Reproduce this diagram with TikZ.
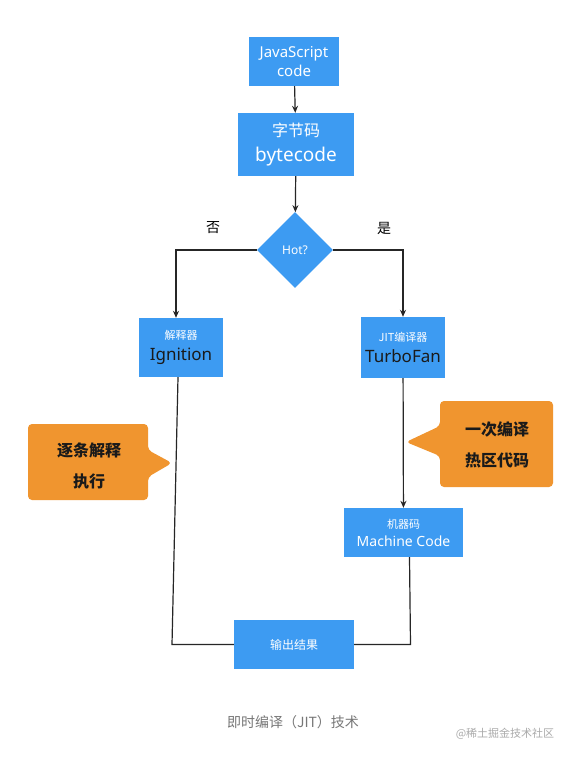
\documentclass[tikz,border=0pt]{standalone}
\usepackage{fontspec}
\setmainfont{Noto Sans CJK SC}
\newfontfamily\lat{Noto Sans}
\usetikzlibrary{shapes.geometric,arrows.meta,calc}
\definecolor{boxblue}{HTML}{3D9BF2}
\definecolor{callorange}{HTML}{F0952F}
\definecolor{captiongray}{HTML}{777777}
\definecolor{markgray}{HTML}{AAAAAA}
\definecolor{darktext}{HTML}{1A1A1A}
\tikzset{
  bluebox/.style={fill=boxblue,draw=none,inner sep=0pt,align=center,text=white},
  conn/.style={draw=black!85,line width=1.2pt},
  arr/.style={conn,-{Stealth[length=7pt,width=6pt]}},
  callout/.style={fill=callorange,draw=none,rounded corners=4pt},
  calltext/.style={align=center,font=\fontsize{16}{31}\selectfont\bfseries,text=darktext},
}
\begin{document}
\begin{tikzpicture}[x=1pt,y=-1pt]
\useasboundingbox (0,0) rectangle (578,758);
\fill[white] (0,0) rectangle (578,758);
% boxes
\node[bluebox,minimum width=90pt,minimum height=49pt,font=\lat\fontsize{15}{19}\selectfont\bfseries] (js) at (294,61.5) {JavaScript\\code};
\node[bluebox,minimum width=116pt,minimum height=63pt] (bc) at (296,144.5) {{\fontsize{16}{18}\selectfont 字节码}\\[9pt]{\lat\fontsize{19}{20}\selectfont bytecode}};
\node[diamond,fill=boxblue,draw=none,minimum width=76pt,minimum height=76pt,inner sep=0pt,text=white,font=\lat\fontsize{12}{14}\selectfont] (hot) at (295,250) {Hot?};
\node[bluebox,minimum width=84pt,minimum height=59pt] (ign) at (181,347.5) {{\fontsize{11}{13}\selectfont 解释器}\\[7pt]{\lat\fontsize{17}{18}\selectfont\color{darktext}Ignition}};
\node[bluebox,minimum width=84pt,minimum height=61pt] (jit) at (403,347.5) {{\fontsize{11}{13}\selectfont JIT编译器}\\[7pt]{\lat\fontsize{17}{18}\selectfont\color{darktext}TurboFan}};
\node[bluebox,minimum width=119pt,minimum height=49pt] (mc) at (403.5,532.5) {{\fontsize{11}{13}\selectfont 机器码}\\[6pt]{\lat\fontsize{14}{15}\selectfont Machine Code}};
\node[bluebox,minimum width=120pt,minimum height=49pt,font=\fontsize{12}{14}\selectfont] (out) at (294,644.5) {输出结果};
% labels
\node[font=\fontsize{14}{16}\selectfont] (no) at (213,228) {否};
\node[font=\fontsize{14}{16}\selectfont] (yes) at (384,228) {是};
% connectors
\draw[arr] (js) -- (bc);
\draw[arr] (bc) -- (hot);
\draw[arr] (hot.west) -| ([xshift=-5pt]ign.north);
\draw[arr] (hot.east) -| (jit.north);
\draw[arr] (jit) -- (mc);
\coordinate (ignb) at ([xshift=-3pt]ign.south);
\coordinate (mcb) at ([xshift=6pt]mc.south);
\draw[conn] (ignb) -- ([xshift=-6pt]ignb |- out.west) -- (out.west);
\draw[conn] (mcb) -- ([xshift=1pt]mcb |- out.east) -- (out.east);
% callouts
\path[callout] (28,424) -- (148,424) -- (148,450) -- (172,463) -- (148,477) -- (148,500) -- (28,500) -- cycle;
\node[calltext] (lc) at (89,466) {逐条解释\\执行};
\path[callout] (440,401) -- (553,401) -- (553,487) -- (440,487) -- (440,456) -- (406,442) -- (440,426) -- cycle;
\node[calltext] (rc) at (497,445) {一次编译\\热区代码};
% caption
\node[text=captiongray,font=\fontsize{14}{16}\selectfont] (cap) at (293,722) {即时编译（JIT）技术};
\node[text=markgray,font=\fontsize{11}{13}\selectfont] (wm) at (505,734) {@稀土掘金技术社区};
\end{tikzpicture}
\end{document}
